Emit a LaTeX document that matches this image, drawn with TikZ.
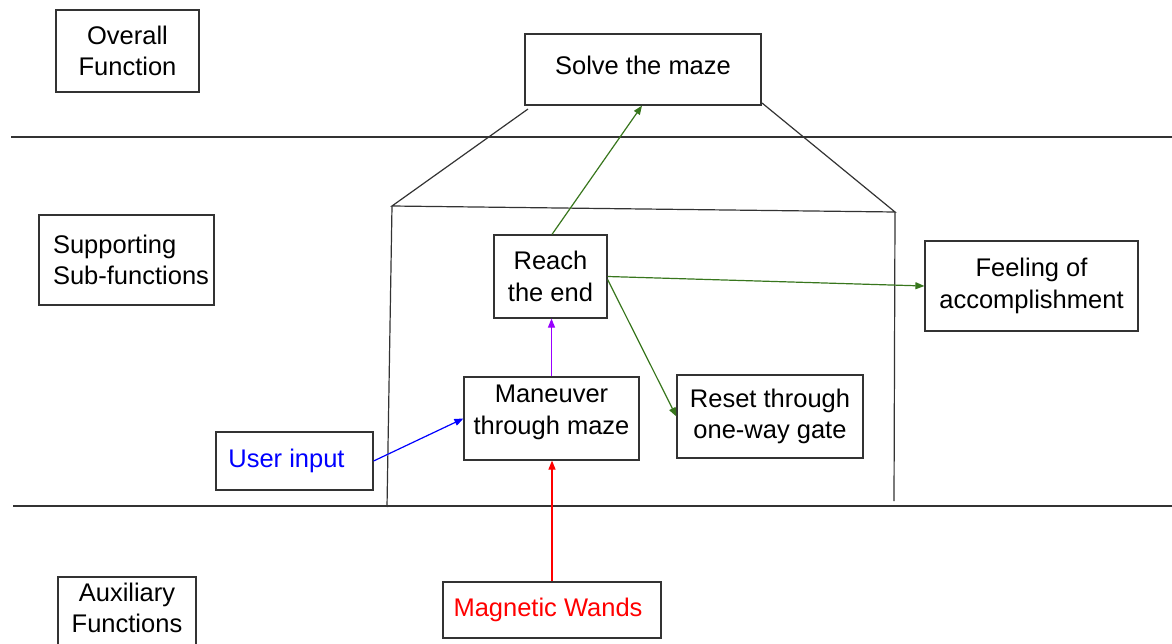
\documentclass[tikz,border=0pt]{standalone}
\usepackage{fontspec}
\setmainfont{Liberation Sans}
\usetikzlibrary{arrows.meta}
\newcommand\bfont{\fontsize{25.5}{31.5}\selectfont}
\definecolor{lgreen}{HTML}{38761D}
\definecolor{lpurple}{HTML}{9900FF}
\definecolor{lgray}{HTML}{333333}
\tikzset{
  box/.style={draw=lgray, line width=1.2pt, inner sep=0pt, font=\bfont, align=center},
  txt/.style={inner sep=0pt, font=\bfont, align=center},
  frame/.style={draw=lgray, line width=1.2pt},
  arr/.style={line width=1.2pt, -{Triangle[length=9pt,width=7pt]}}
}
\begin{document}
\begin{tikzpicture}[x=1pt,y=-1pt]
\useasboundingbox (0,0) rectangle (1172,644);
\clip (0,0) rectangle (1172,644);
% horizontal separators
\coordinate (h1a) at (11,137);  \coordinate (h1b) at (1172,137);
\coordinate (h2a) at (13,506);  \coordinate (h2b) at (1172,506);
\draw[frame] (h1a) -- (h1b);
\draw[frame] (h2a) -- (h2b);
% left category boxes
\node[box, minimum width=143pt, minimum height=82pt] (overall) at (127.5,51) {Overall\\Function};
\node[box, minimum width=175pt, minimum height=90pt, align=left] (support) at (126.5,260) {\hspace*{9pt}Supporting\\\hspace*{9pt}Sub-functions};
\node[box, minimum width=138pt, minimum height=83pt] (aux) at (127,618.5) {};
\node[txt] (auxt) at (127,608) {Auxiliary\\Functions};
% main boxes
\node[box, minimum width=236pt, minimum height=71pt, text height=16pt, text depth=5pt] (solve) at (643,69.5) {Solve the maze};
\node[box, minimum width=113pt, minimum height=83pt] (reach) at (550.5,276.5) {Reach\\the end};
\node[box, minimum width=213pt, minimum height=90pt] (feel) at (1031.5,286) {Feeling of\\accomplishment};
\node[box, minimum width=186pt, minimum height=83pt] (reset) at (770,416.5) {Reset through\\one-way gate};
\node[box, minimum width=175pt, minimum height=83pt] (man) at (551.5,418.5) {};
\node[txt] (mant) at (551.5,412.5) {Maneuver\\through maze};
\node[box, minimum width=157pt, minimum height=58pt, text=blue] (user) at (294.5,461) {User input\hspace*{16pt}};
\node[box, minimum width=218pt, minimum height=56pt, text=red] (wands) at (552,610) {Magnetic Wands\hspace*{8pt}};
% trapezoid frame
\coordinate (tl) at (528,109);
\coordinate (tr) at (762,103);
\coordinate (L) at (392,206);
\coordinate (R) at (895,212);
\coordinate (Lb) at (387,507);
\coordinate (Rb) at (894,501);
\draw[frame] (tl) -- (L) -- (R) -- (tr);
\draw[frame] (L) -- (Lb);
\draw[frame] (R) -- (Rb);
% connectors
\draw[arr, lgreen] ([xshift=1.5pt]reach.north) -- ([xshift=-1pt]solve.south);
\draw[arr, lgreen] (reach.east) -- (feel.west);
\draw[arr, lgreen] ([yshift=-3pt]reach.east) -- (reset.west);
\draw[arr, lpurple] (man.north) -- (man.north |- reach.south);
\draw[arr, red] (wands.north) -- (wands.north |- man.south);
\draw[arr, blue] (user.east) -- (man.west);
\end{tikzpicture}
\end{document}
